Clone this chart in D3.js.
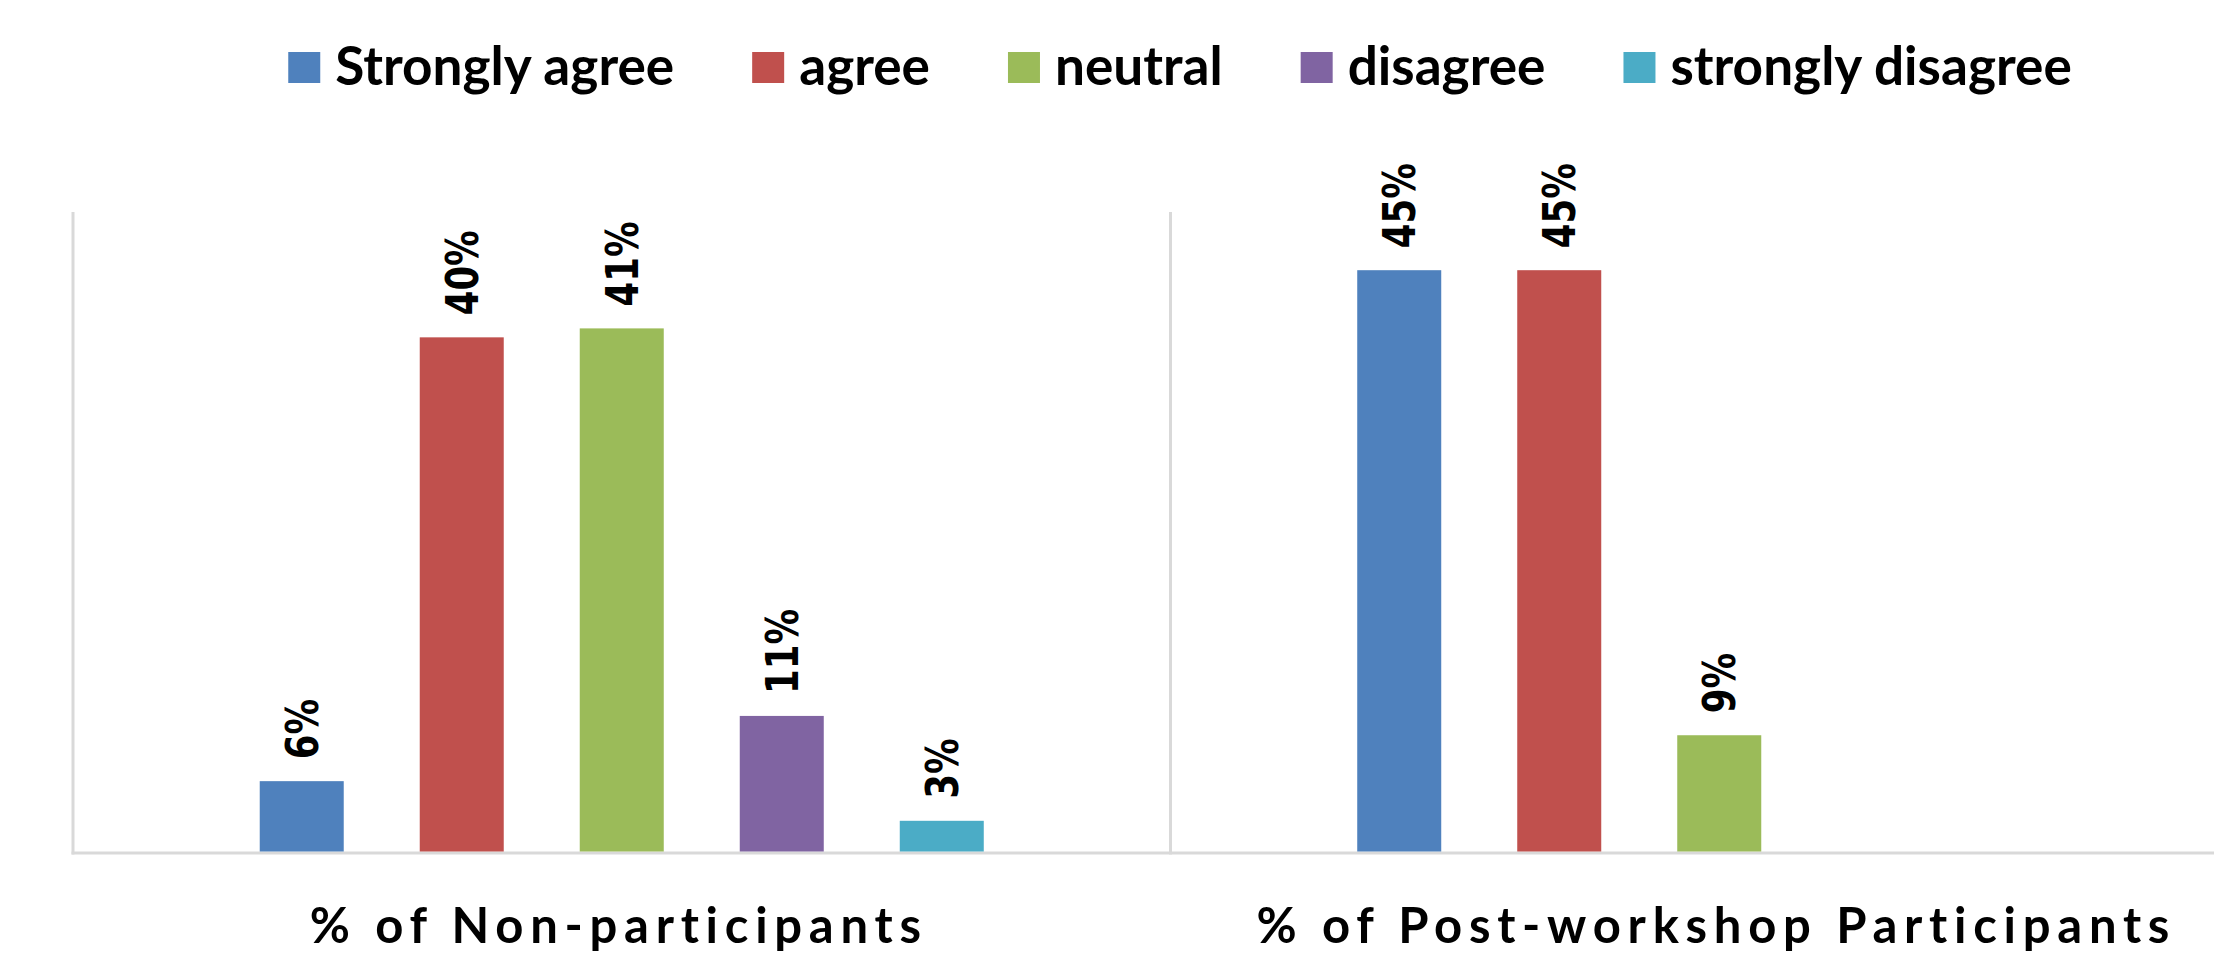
<!DOCTYPE html>
<html>
<head>
<meta charset="utf-8">
<script src="https://cdn.jsdelivr.net/npm/d3@7"></script>
<style>
  body { margin: 0; background: #fff; }
  svg { display: block; }
</style>
</head>
<body>
<div id="chart"></div>
<script>
// Antworten auf die Frage, je Gruppe
const groups = ["% of Non-participants", "% of Post-workshop Participants"];
const series = ["Strongly agree", "agree", "neutral", "disagree", "strongly disagree"];
const colors = ["#4F81BD", "#C0504D", "#9BBB59", "#8064A2", "#4BACC6"];

const nonParticipants = [0.055, 0.402, 0.409, 0.106, 0.024];
const postWorkshop = [0.4545, 0.4545, 0.0909, 0, 0];
const nonLabels = ["6%", "40%", "41%", "11%", "3%"];
const postLabels = ["45%", "45%", "9%", "", ""];

const W = 2214, H = 956;
const plot = {left: 73, top: 212, bottom: 851.5, catWidth: 1097.5};

const data = groups.map((g, gi) => ({
    group: g,
    bars: series.map((s, si) => ({
        series: s,
        color: colors[si],
        value: gi === 0 ? nonParticipants[si] : postWorkshop[si],
        label: gi === 0 ? nonLabels[si] : postLabels[si]
    }))
}));

const svg = d3.select("#chart").append("svg")
    .attr("width", W)
    .attr("height", H);

const x0 = d3.scaleBand()
    .domain(groups)
    .range([plot.left, plot.left + 2 * plot.catWidth])
    .padding(0);

const x1 = d3.scaleBand()
    .domain(series)
    .range([0, x0.bandwidth()])
    .paddingInner(0.475)
    .paddingOuter(1.167);

const y = d3.scaleLinear()
    .domain([0, 0.5])
    .range([plot.bottom, plot.top]);

// Achsenlinien (grau)
const grid = svg.append("g").attr("class", "axis-lines");
grid.selectAll("line.v")
    .data(groups)
    .enter().append("line")
    .attr("class", "v")
    .attr("x1", d => x0(d))
    .attr("x2", d => x0(d))
    .attr("y1", y(0.5))
    .attr("y2", y(0) + 3)
    .style("stroke", "#d9d9d9")
    .attr("stroke-width", 3);

grid.append("line")
    .attr("x1", plot.left - 1.5)
    .attr("x2", W)
    .attr("y1", y(0) + 1.5)
    .attr("y2", y(0) + 1.5)
    .style("stroke", "#d9d9d9")
    .attr("stroke-width", 3);

const groupSel = svg.append("g")
    .attr("class", "bars")
    .selectAll("g")
    .data(data)
    .enter().append("g")
    .attr("transform", d => `translate(${x0(d.group)},0)`);

groupSel.selectAll("rect")
    .data(d => d.bars.filter(b => b.value > 0))
    .enter().append("rect")
    .attr("x", d => x1(d.series))
    .attr("y", d => y(d.value))
    .attr("width", x1.bandwidth())
    .attr("height", d => y(0) - y(d.value))
    .attr("fill", d => d.color);

// Werte gedreht ueber den Balken
groupSel.selectAll("text")
    .data(d => d.bars.filter(b => b.value > 0 && b.label))
    .enter().append("text")
    .attr("transform", d => `translate(${x1(d.series) + x1.bandwidth() / 2},${y(d.value) - 22}) rotate(-90) scale(0.79,1)`)
    .attr("dy", "0.36em")
    .style("font-family", "'DejaVu Sans', Verdana, sans-serif")
    .style("font-weight", "bold")
    .style("font-size", "45px")
    .style("fill", "#000")
    .text(d => d.label);

// Kategorie-Titel unten
const titleFont = "Lato, 'Open Sans', sans-serif";
const titles = svg.append("g")
    .attr("class", "titles")
    .selectAll("text")
    .data(groups)
    .enter().append("text")
    .attr("x", d => x0(d) + x0.bandwidth() / 2 - 3)
    .attr("y", 943)
    .attr("text-anchor", "middle")
    .style("font-family", titleFont)
    .style("font-weight", "bold")
    .style("font-size", "49px")
    .style("fill", "#000")
    .text(d => d);

// Buchstabenabstand so, dass der erste Titel ~612px breit ist
const t0 = titles.nodes()[0];
const natural = t0.getComputedTextLength();
const spacing = (612 - natural) / (groups[0].length - 1);
titles.style("letter-spacing", spacing + "px");

// Legende
const legend = svg.append("g").attr("class", "legend");
const items = legend.selectAll("g")
    .data(series)
    .enter().append("g");

items.append("rect")
    .attr("width", 32)
    .attr("height", 31)
    .attr("y", 52)
    .attr("fill", (d, i) => colors[i]);

const ltext = items.append("text")
    .attr("x", 47)
    .attr("y", 85)
    .style("font-family", titleFont)
    .style("font-weight", "bold")
    .style("font-size", "100px")
    .style("fill", "#000")
    .text(d => d);

const w0 = ltext.nodes()[0].getComputedTextLength();
const legendSize = 100 * 339 / w0;
ltext.style("font-size", legendSize + "px");

const widths = ltext.nodes().map(n => 47 + n.getComputedTextLength());
const gap = 78;
const total = d3.sum(widths) + gap * (widths.length - 1);
let cx = 1180 - total / 2;
items.attr("transform", (d, i) => {
    const t = `translate(${cx},0)`;
    cx += widths[i] + gap;
    return t;
});
</script>
</body>
</html>
